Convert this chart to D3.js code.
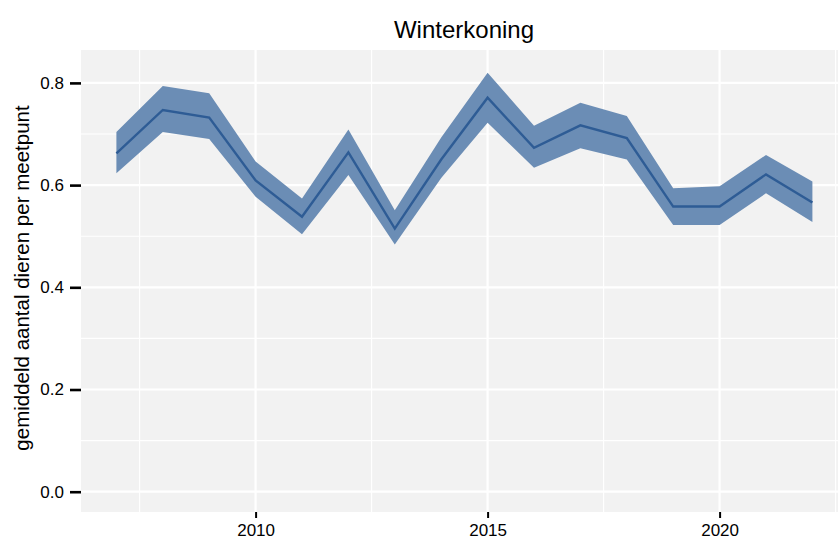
<!DOCTYPE html>
<html><head><meta charset="utf-8">
<script src="https://cdn.jsdelivr.net/npm/d3@7"></script>
<style>body{margin:0;background:#fff}svg{display:block}</style>
</head><body>
<script>
const years = [2007,2008,2009,2010,2011,2012,2013,2014,2015,2016,2017,2018,2019,2020,2021,2022];
const mean  = [0.662,0.747,0.732,0.609,0.538,0.664,0.515,0.650,0.771,0.673,0.717,0.692,0.558,0.558,0.621,0.566];
const upper = [0.704,0.794,0.780,0.646,0.574,0.709,0.551,0.693,0.820,0.716,0.761,0.735,0.594,0.598,0.659,0.607];
const lower = [0.623,0.704,0.690,0.577,0.504,0.620,0.484,0.614,0.722,0.634,0.672,0.650,0.522,0.522,0.584,0.528];
const yTicks = [0.0,0.2,0.4,0.6,0.8];
const yMinor = [0.1,0.3,0.5,0.7];
const xTicks = [2010,2015,2020];
const xMinor = [2007.5,2012.5,2017.5,2022.5];
const title = "Winterkoning";
const yTitle = "gemiddeld aantal dieren per meetpunt";

const W=838,H=543;
const P={l:81,t:50,b:512,r:847.2};
const svg=d3.select("body").append("svg").attr("width",W).attr("height",H);
const x=d3.scaleLinear().domain([2006.25,2022.75]).range([81.6,847.2]);
const y=d3.scaleLinear().domain([-0.0397,0.8644]).range([512,50]);

svg.append("rect").attr("x",P.l).attr("y",P.t).attr("width",P.r-P.l).attr("height",P.b-P.t).attr("fill","#f2f2f2");
const g=svg.append("g");
g.selectAll(".ym").data(yMinor).join("line").attr("x1",P.l).attr("x2",P.r).attr("y1",d=>y(d)).attr("y2",d=>y(d)).attr("stroke","#fff").attr("stroke-width",1.1);
g.selectAll(".xm").data(xMinor).join("line").attr("y1",P.t).attr("y2",P.b).attr("x1",d=>x(d)).attr("x2",d=>x(d)).attr("stroke","#fff").attr("stroke-width",1.1);
g.selectAll(".yM").data(yTicks).join("line").attr("x1",P.l).attr("x2",P.r).attr("y1",d=>y(d)).attr("y2",d=>y(d)).attr("stroke","#fff").attr("stroke-width",2.2);
g.selectAll(".xM").data(xTicks).join("line").attr("y1",P.t).attr("y2",P.b).attr("x1",d=>x(d)).attr("x2",d=>x(d)).attr("stroke","#fff").attr("stroke-width",2.2);

const data=years.map((yr,i)=>({yr,m:mean[i],u:upper[i],l:lower[i]}));
svg.append("path").datum(data).attr("fill","#6b8db5")
  .attr("d",d3.area().x(d=>x(d.yr)).y0(d=>y(d.l)).y1(d=>y(d.u)));
svg.append("path").datum(data).attr("fill","none").attr("stroke","#2e5c95").attr("stroke-width",2.4)
  .attr("d",d3.line().x(d=>x(d.yr)).y(d=>y(d.m)));

// axes
const ya=svg.append("g").attr("transform",`translate(${P.l},0)`)
  .call(d3.axisLeft(y).tickValues(yTicks).tickFormat(d3.format(".1f")).tickSize(11).tickPadding(6));
ya.select(".domain").remove();
ya.selectAll(".tick line").attr("stroke","#000").attr("stroke-width",2.6);
ya.selectAll("text").attr("font-family","Liberation Sans, Arial, sans-serif").attr("font-size",17).attr("fill","#000");
const xa=svg.append("g").attr("transform",`translate(0,${P.b})`)
  .call(d3.axisBottom(x).tickValues(xTicks).tickFormat(d3.format("d")).tickSize(6).tickPadding(6));
xa.select(".domain").remove();
xa.selectAll(".tick line").attr("stroke","#000").attr("stroke-width",2);
xa.selectAll("text").attr("font-family","Liberation Sans, Arial, sans-serif").attr("font-size",17).attr("fill","#000");

svg.append("text").attr("x",464).attr("y",38).attr("text-anchor","middle")
  .attr("font-family","Liberation Sans, Arial, sans-serif").attr("font-size",24).text(title);
svg.append("text").attr("transform","translate(29,278) rotate(-90)").attr("text-anchor","middle")
  .attr("font-family","Liberation Sans, Arial, sans-serif").attr("font-size",20.5).text(yTitle);
</script>
</body></html>
